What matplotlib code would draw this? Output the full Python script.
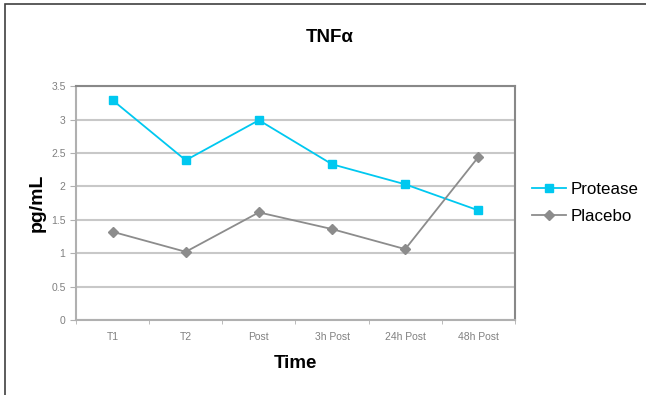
import matplotlib.pyplot as plt
from matplotlib.patches import Rectangle

plt.rcParams['font.family'] = ['Liberation Sans', 'DejaVu Sans']

timepoints = ['T1', 'T2', 'Post', '3h Post', '24h Post', '48h Post']
protease = [3.29, 2.39, 2.99, 2.33, 2.03, 1.64]
placebo = [1.32, 1.02, 1.61, 1.36, 1.06, 2.44]
y_ticks = [0, 0.5, 1, 1.5, 2, 2.5, 3, 3.5]
y_ticklabels = ['0', '0.5', '1', '1.5', '2', '2.5', '3', '3.5']

fig = plt.figure(figsize=(6.46, 3.95), dpi=100)
ax = fig.add_axes([0.1176, 0.19, 0.6796, 0.592])

x = range(len(timepoints))
ax.plot(x, protease, color='#00c8f0', marker='s', markersize=6, linewidth=1.3,
        label='Protease', zorder=3)
ax.plot(x, placebo, color='#8c8c8c', marker='D', markersize=5, linewidth=1.3,
        label='Placebo', zorder=3)

ax.set_xlim(-0.5, len(timepoints) - 0.5)
ax.set_ylim(0, 3.5)
ax.set_yticks(y_ticks)
ax.set_yticklabels(y_ticklabels)
ax.set_xticks(list(x))
ax.set_xticklabels(timepoints)
ax.set_xticks([i - 0.5 for i in range(len(timepoints) + 1)], minor=True)

ax.grid(axis='y', color='#c8c8c8', linewidth=1.5)
ax.set_axisbelow(True)

ax.tick_params(axis='x', which='major', length=0, pad=9, labelsize=7.5, labelcolor='#808080')
ax.tick_params(axis='x', which='minor', length=3, color='#b0b0b0')
ax.tick_params(axis='y', length=4, color='#b0b0b0', labelsize=7.5, labelcolor='#808080')

for side in ['left', 'bottom']:
    ax.spines[side].set_color('#b0b0b0')
    ax.spines[side].set_linewidth(1.5)
for side in ['top', 'right']:
    ax.spines[side].set_color('#888888')
    ax.spines[side].set_linewidth(1.5)

ax.set_xlabel('Time', fontsize=13.5, fontweight='bold', labelpad=9)
ax.set_ylabel('pg/mL', fontsize=14, fontweight='bold', labelpad=4)
fig.text(0.511, 0.904, 'TNFα', fontsize=13.5, fontweight='bold', ha='center', va='center')

ax.legend(loc='center left', bbox_to_anchor=(1.005, 0.5), frameon=False,
          fontsize=12.2, handlelength=2.0, handletextpad=0.25, labelspacing=0.7)

# chart frame
fig.patches.append(Rectangle((5 / 646, -0.1), 1.2, 1.09 - 4 / 395 + 0.01,
                             transform=fig.transFigure, fill=False,
                             edgecolor='#404040', linewidth=1.2))

fig.savefig('out.png', dpi=100)
